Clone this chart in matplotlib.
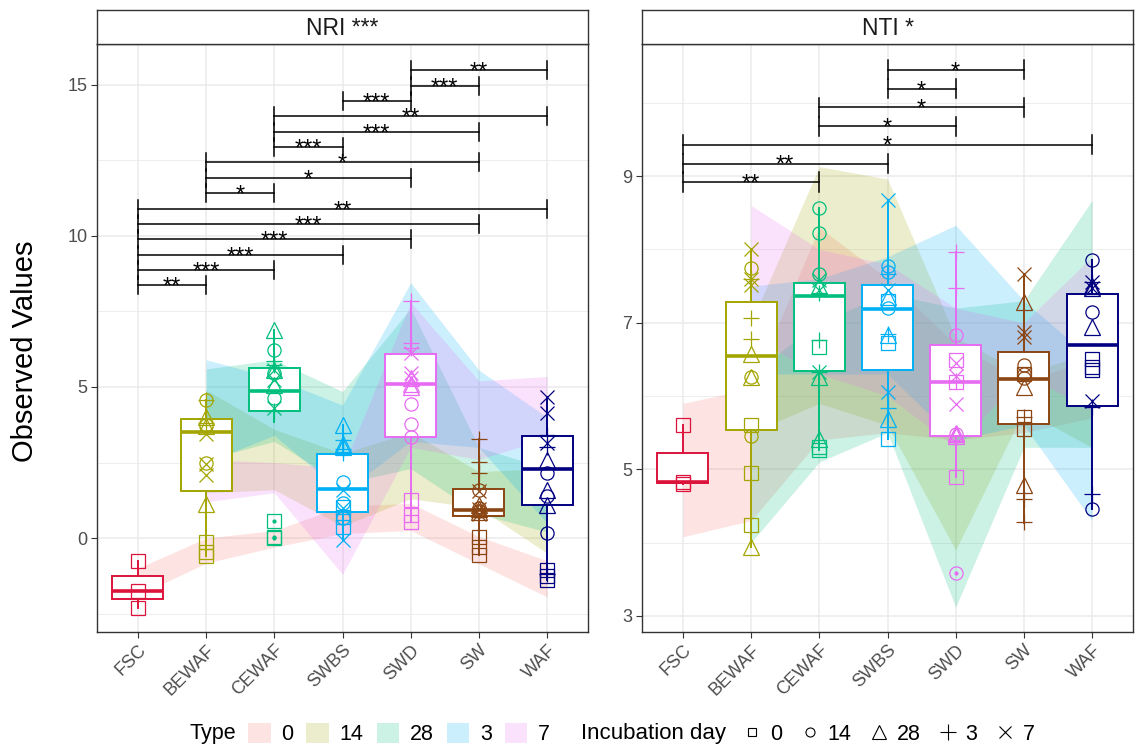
import numpy as np
import matplotlib
matplotlib.use('Agg')
import matplotlib.pyplot as plt
from matplotlib.patches import Patch
from matplotlib.lines import Line2D

# categories and styles
types = ['FSC', 'BEWAF', 'CEWAF', 'SWBS', 'SWD', 'SW', 'WAF']
type_cols = ['#DC143C', '#A3A500', '#00BF7D', '#00B0F6', '#E76BF3', '#8B4513', '#000080']
days = ['0', '14', '28', '3', '7']
day_cols = ['#F8766D', '#A3A500', '#00BF7D', '#00B0F6', '#E76BF3']
day_marks = ['s', 'o', '^', '+', 'x']
day_ms = [9.5, 9.5, 11.5, 12, 9.5]
legend_ms = [5.5, 6.5, 10.5, 11, 8]

# ---- NRI: points per incubation day (one list per type) ----
nri_d0 = [[-0.75, -1.76, -2.33], [-0.12, -0.45, -0.6], [0.57, 0.05, 0.0], [1.04, 0.7, 0.37],
          [1.26, 0.76, 0.54], [0.05, -0.3, -0.55], [-1.06, -1.39, -1.25]]
nri_d14 = [[], [4.57, 3.75, 2.47], [6.23, 5.45, 4.63], [1.86, 1.15, 0.65],
           [4.44, 3.77, 3.35], [1.6, 1.0, 0.9], [2.14, 1.4, 0.18]]
nri_d28 = [[], [4.0, 3.7, 1.13], [6.89, 5.07, 5.55], [3.75, 3.1, 3.0],
           [5.0, 5.1, 5.3], [1.1, 0.95, 0.85], [2.58, 1.59, 1.1]]
nri_d3 = [[], [4.57, 3.95, 3.8], [5.86, 5.73, 4.2], [3.24, 2.95, 2.8],
          [7.86, 6.45, 6.3], [3.27, 2.53, 2.14], [3.41, 3.0, -1.2]]
nri_d7 = [[], [3.45, 2.45, 2.09], [5.56, 5.23, 4.32], [1.59, 0.98, -0.07],
          [6.11, 5.45, 5.3], [1.55, 0.95, 0.8], [4.68, 4.15, 3.13]]

# NRI box statistics
nri_lo = [-2.33, -0.6, 3.85, -0.07, 0.54, -0.55, -1.39]
nri_q1 = [-2.03, 1.57, 4.22, 0.87, 3.35, 0.74, 1.11]
nri_med = [-1.76, 3.5, 4.88, 1.64, 5.1, 0.93, 2.28]
nri_q3 = [-1.26, 3.93, 5.64, 2.77, 6.09, 1.62, 3.39]
nri_hi = [-0.75, 4.57, 6.89, 3.75, 7.86, 3.27, 4.68]
nri_out = [[], [], [0.57, 0.05, 0.0], [], [], [], []]

# NRI ribbons by incubation day (rows: 0, 14, 28, 3, 7)
nan = np.nan
nri_band_lo = [[-1.9, -0.83, -0.3, 0.15, 0.25, -0.85, -1.95],
               [nan, 1.5, 1.6, 0.4, 1.3, 1.0, -0.5],
               [nan, 2.6, 3.2, 1.8, 2.3, 0.8, 0.2],
               [nan, 2.5, 3.4, 1.5, 3.2, 3.0, 0.5],
               [nan, 1.2, 1.5, -1.2, 3.0, 2.6, 3.3]]
nri_band_hi = [[-1.0, 0.0, 0.25, 1.05, 1.15, 0.05, -0.75],
               [nan, 4.9, 3.6, 2.8, 3.5, 2.2, 2.3],
               [nan, 5.6, 5.9, 4.85, 7.6, 3.0, 2.3],
               [nan, 5.9, 5.3, 4.4, 8.45, 5.56, 4.0],
               [nan, 2.6, 2.5, 2.3, 7.8, 5.2, 5.35]]

# NRI significance brackets
nri_pairs = [(0, 1), (0, 2), (0, 3), (0, 4), (0, 5), (0, 6), (1, 2), (1, 4), (1, 5),
             (2, 3), (2, 5), (2, 6), (3, 4), (4, 5), (4, 6)]
nri_stars = ['**', '***', '***', '***', '***', '**', '*', '*', '*',
             '***', '***', '**', '***', '***', '**']
nri_bar_y = [8.38, 8.87, 9.37, 9.9, 10.4, 10.9, 11.42, 11.92, 12.45,
             12.95, 13.45, 13.97, 14.47, 14.97, 15.5]

# ---- NTI ----
nti_d0 = [[5.61, 4.83, 4.80], [5.6, 4.95, 4.24], [6.67, 5.26, 5.3], [7.3, 6.72, 5.42],
          [6.49, 6.19, 4.89], [6.3, 5.71, 5.55], [6.5, 6.35, 6.4]]
nti_d14 = [[], [7.74, 6.26, 5.45], [8.56, 8.22, 7.67], [7.78, 7.69, 7.2],
           [6.83, 5.48, 3.58], [6.42, 6.3, 6.25], [7.85, 7.15, 4.46]]
nti_d28 = [[], [6.58, 6.26, 3.94], [7.5, 6.26, 5.42], [7.35, 6.83, 5.69],
           [5.48, 5.5, 5.45], [7.28, 6.12, 4.78], [7.5, 7.47, 6.94]]
nti_d3 = [[], [7.06, 6.78, 7.6], [7.4, 6.76, 6.33], [7.66, 6.85, 5.83],
          [7.97, 7.48, 6.2], [5.71, 4.6, 4.28], [7.55, 5.85, 4.66]]
nti_d7 = [[], [8.01, 7.6, 7.51], [7.58, 6.33, 7.45], [8.67, 7.45, 6.05],
          [6.45, 6.27, 5.89], [7.66, 6.87, 6.8], [7.55, 7.47, 5.93]]

nti_lo = [4.80, 3.94, 5.26, 5.42, 4.89, 4.27, 4.46]
nti_q1 = [4.815, 5.53, 6.34, 6.35, 5.46, 5.62, 5.86]
nti_med = [4.83, 6.54, 7.36, 7.19, 6.19, 6.23, 6.7]
nti_q3 = [5.22, 7.28, 7.54, 7.52, 6.70, 6.6, 7.39]
nti_hi = [5.61, 8.01, 8.56, 8.67, 7.97, 7.66, 7.85]
nti_out = [[], [], [], [], [3.58], [], []]

nti_band_lo = [[4.08, 4.3, 5.4, 5.5, 5.4, 5.5, 5.7],
               [nan, 5.5, 5.9, 5.6, 3.9, 5.8, 5.3],
               [nan, 4.0, 5.1, 5.5, 3.12, 5.3, 5.3],
               [nan, 6.3, 6.3, 6.3, 5.4, 5.6, 4.3],
               [nan, 6.8, 6.3, 6.0, 5.3, 6.3, 5.8]]
nti_band_hi = [[5.9, 6.1, 8.3, 7.6, 6.7, 6.2, 6.5],
               [nan, 7.0, 9.13, 8.96, 6.8, 6.3, 6.6],
               [nan, 6.3, 7.0, 7.4, 7.2, 7.3, 8.67],
               [nan, 7.5, 7.6, 7.9, 8.33, 7.3, 6.5],
               [nan, 8.6, 8.0, 7.8, 7.2, 7.0, 7.9]]

nti_pairs = [(0, 2), (0, 3), (0, 6), (2, 4), (2, 5), (3, 4), (3, 5)]
nti_stars = ['**', '**', '*', '*', '*', '*', '*']
nti_bar_y = [8.92, 9.17, 9.43, 9.68, 9.94, 10.19, 10.45]

W, H = 1135, 749
fig = plt.figure(figsize=(W / 100, H / 100), dpi=100)
plt.rcParams['font.family'] = ['Liberation Sans', 'DejaVu Sans']


def panel(left, title, day_pts, lo, q1, med, q3, hi, outl, band_lo, band_hi,
          pairs, stars, bar_y, tip, ylim, yticks, yminor):
    ax = fig.add_axes([left / W, 1 - 632 / H, 491 / W, 588.5 / H])
    x = np.arange(len(types))

    # ribbons
    for k in range(len(days)):
        blo = np.array(band_lo[k])
        bhi = np.array(band_hi[k])
        m = np.isfinite(blo)
        ax.fill_between(x[m], blo[m], bhi[m], color=day_cols[k], alpha=0.2, lw=0, zorder=1)

    # boxes
    stats = [dict(whislo=lo[i], q1=q1[i], med=med[i], q3=q3[i], whishi=hi[i], fliers=outl[i])
             for i in range(len(types))]
    bp = ax.bxp(stats, positions=x, widths=0.75, patch_artist=True, showcaps=False,
                manage_ticks=False, zorder=2)
    for i, c in enumerate(type_cols):
        bp['boxes'][i].set(facecolor='white', edgecolor=c, lw=1.4)
        bp['whiskers'][2 * i].set(color=c, lw=1.4)
        bp['whiskers'][2 * i + 1].set(color=c, lw=1.4)
        bp['medians'][i].set(color=c, lw=2.6)
        bp['fliers'][i].set(marker='o', ms=2, mfc=c, mec=c)

    # points
    for k in range(len(days)):
        for i in range(len(types)):
            vals = day_pts[k][i]
            ax.plot([i] * len(vals), vals, ls='none', marker=day_marks[k], mfc='none',
                    mec=type_cols[i], ms=day_ms[k], mew=0.9, zorder=3)

    # significance brackets
    for (a, b), s, yb in zip(pairs, stars, bar_y):
        ax.plot([a, b], [yb, yb], color='black', lw=1.1, zorder=4)
        ax.plot([a, a], [yb - tip, yb + tip], color='black', lw=1.1, zorder=4)
        ax.plot([b, b], [yb - tip, yb + tip], color='black', lw=1.1, zorder=4)
        ax.annotate(s, xy=((a + b) / 2, yb), xytext=(0, -6), textcoords='offset points',
                    ha='center', va='baseline', fontsize=17, zorder=5)

    ax.set_xlim(-0.6, 6.6)
    ax.set_ylim(*ylim)
    ax.set_xticks(x)
    ax.set_xticklabels(types, rotation=45, ha='right', va='top', rotation_mode='anchor')
    ax.set_yticks(yticks)
    ax.set_yticks(yminor, minor=True)
    ax.tick_params(which='major', length=4, color='#333333', labelsize=13,
                   labelcolor='#4D4D4D', pad=3)
    ax.tick_params(which='minor', length=0)
    ax.set_axisbelow(True)
    ax.grid(which='major', color='#EBEBEB', lw=1.1)
    ax.grid(which='minor', axis='y', color='#EBEBEB', lw=0.6)
    for sp in ax.spines.values():
        sp.set_color('#333333')
        sp.set_linewidth(1.0)

    # facet strip
    st = fig.add_axes([left / W, 1 - 43.5 / H, 491 / W, 33.5 / H])
    st.set_xticks([])
    st.set_yticks([])
    for sp in st.spines.values():
        sp.set_color('#333333')
        sp.set_linewidth(1.0)
    st.text(0.5, 0.45, title, ha='center', va='center', fontsize=16.5, color='#1A1A1A',
            transform=st.transAxes)
    return ax


panel(97, 'NRI ***', [nri_d0, nri_d14, nri_d28, nri_d3, nri_d7],
      nri_lo, nri_q1, nri_med, nri_q3, nri_hi, nri_out, nri_band_lo, nri_band_hi,
      nri_pairs, nri_stars, nri_bar_y, 0.3, (-3.11, 16.37), [0, 5, 10, 15], [-2.5, 2.5, 7.5, 12.5])
panel(642, 'NTI *', [nti_d0, nti_d14, nti_d28, nti_d3, nti_d7],
      nti_lo, nti_q1, nti_med, nti_q3, nti_hi, nti_out, nti_band_lo, nti_band_hi,
      nti_pairs, nti_stars, nti_bar_y, 0.13, (2.78, 10.81), [3, 5, 7, 9], [4, 6, 8, 10])

fig.text(25 / W, 1 - 351 / H, 'Observed Values', rotation=90, ha='center', va='center',
         fontsize=21)

# legends at the bottom
ly = 1 - 734 / H
fig.text(189 / W, ly, 'Type', ha='left', va='center', fontsize=15.5)
type_handles = [Patch(facecolor=c, alpha=0.2, lw=0) for c in day_cols]
fig.legend(type_handles, days, loc='center left', bbox_to_anchor=(248 / W, ly), ncol=5,
           frameon=False, fontsize=15.5, handlelength=1.05, handleheight=1.1,
           handletextpad=0.5, columnspacing=0.6, borderaxespad=0, borderpad=0)
fig.text(581 / W, ly, 'Incubation day', ha='left', va='center', fontsize=16)
shape_handles = [Line2D([], [], ls='none', marker=m, mfc='none', mec='black', ms=s, mew=0.8)
                 for m, s in zip(day_marks, legend_ms)]
fig.legend(shape_handles, days, loc='center left', bbox_to_anchor=(741 / W, ly), ncol=5,
           frameon=False, fontsize=15.5, handlelength=1.05, handleheight=1.1,
           handletextpad=0.3, columnspacing=0.75, borderaxespad=0, borderpad=0)

fig.savefig('out.png', dpi=100)
